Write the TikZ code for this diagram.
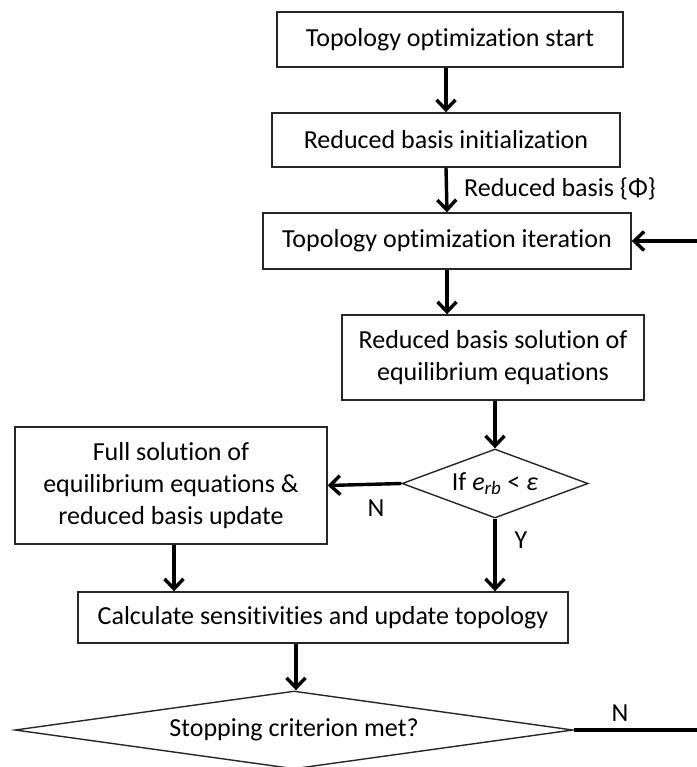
\documentclass[tikz,border=0pt]{standalone}
\usepackage{fontspec}
\setmainfont{Carlito}[Ligatures=NoCommon]
\usetikzlibrary{shapes.geometric, arrows.meta, positioning, calc}

\begin{document}
\begin{tikzpicture}[
    x=1pt, y=-1pt,
    box/.style={rectangle, draw=black!85, line width=1.4pt, inner sep=0pt,
                align=center, font=\fontsize{26}{32}\selectfont},
    decision/.style={diamond, draw=black!85, line width=1.4pt, inner sep=0pt,
                align=center, font=\fontsize{26}{32}\selectfont},
    flow/.style={line width=3.4pt, -{Straight Barb[length=10pt, width=19pt]}},
    tag/.style={font=\fontsize{26}{32}\selectfont, inner sep=0pt}
]
    \useasboundingbox (0,0) rectangle (696,767);

    % Main column
    \node[box, minimum width=346pt, minimum height=55pt] (start) at (450,39.5) {Topology optimization start};
    \node[box, minimum width=348pt, minimum height=54pt] (init) at (446,140) {Reduced basis initialization};
    \node[box, minimum width=368pt, minimum height=56pt] (iter) at (447,241) {Topology optimization iteration};
    \node[box, minimum width=302pt, minimum height=85pt] (rbsol) at (493,357.5) {Reduced basis solution of\\equilibrium equations};

    % Reduced basis check
    \node[decision, minimum width=186pt, minimum height=69pt, aspect=2.7] (check) at (495,483.5)
        {If \textit{e}\textsubscript{\fontsize{19}{20}\selectfont\textit{rb}} < \textit{ε}};
    \node[box, minimum width=312pt, minimum height=117pt] (full) at (171,485.5)
        {Full solution of\\equilibrium equations \&\\reduced basis update};

    % Update and stopping test
    \node[box, minimum width=490pt, minimum height=51pt] (sens) at (323,617.5) {Calculate sensitivities and update topology};
    \node[decision, minimum width=558pt, minimum height=78pt, aspect=7.15] (stop) at (294,730) {Stopping criterion met?};

    \coordinate (ret) at (705,730);

    % Labels
    \node[tag, anchor=west] (phi) at (464,189) {Reduced basis \{Φ\}};
    \node[tag] (chkN) at (376,508) {N};
    \node[tag] (chkY) at (521,540) {Y};
    \node[tag] (stopN) at (620,713) {N};

    % Arrows
    \draw[flow] (init.north |- start.south) -- (init.north);
    \draw[flow] (init.south) -- (iter.north);
    \draw[flow] (iter.south) -- (iter.south |- rbsol.north);
    \draw[flow] (check.north |- rbsol.south) -- (check.north);
    \draw[flow] (check.west) -- (full.east);
    \draw[flow] (check.south) -- (check.south |- sens.north);
    \draw[flow] ([xshift=3pt]full.south) -- ([xshift=3pt]full.south |- sens.north);
    \draw[flow] ([xshift=2pt]stop.north |- sens.south) -- ([xshift=2pt]stop.north);
    \draw[flow] (stop.east) -- (ret) -- (ret |- iter.east) -- (iter.east);
\end{tikzpicture}
\end{document}
